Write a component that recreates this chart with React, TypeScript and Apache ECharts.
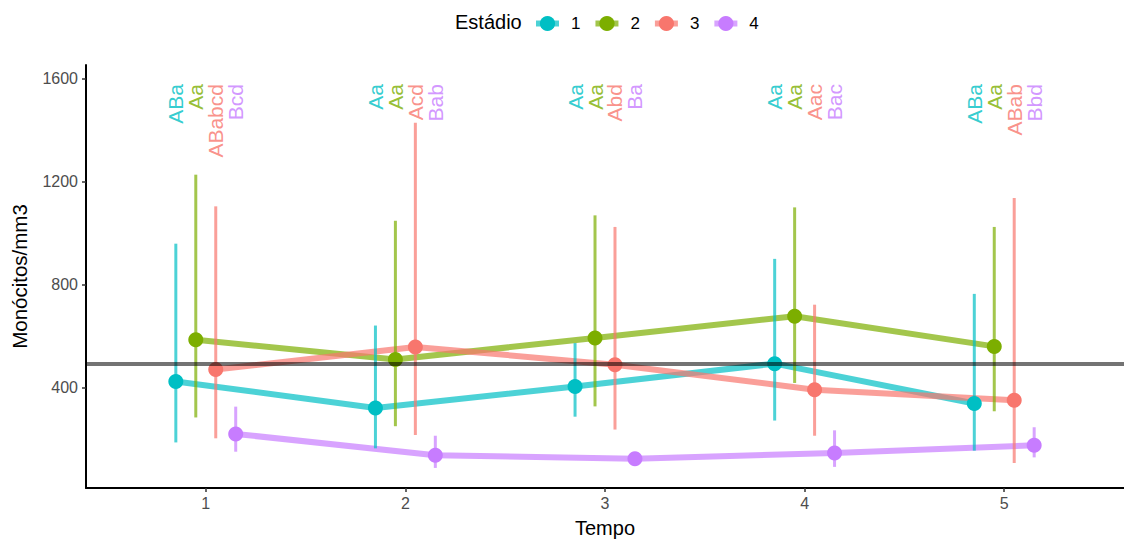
import React, { useEffect, useRef } from 'react';
import * as echarts from 'echarts';

const times = [1, 2, 3, 4, 5];
const groups = ['1', '2', '3', '4'];
const colors = ['#00BFC4', '#7CAE00', '#F8766D', '#C77CFF'];
const dodge = [-0.15, -0.05, 0.05, 0.15];
const means = [
  [423, 320, 403, 492, 337],
  [585, 508, 592, 676, 559],
  [469, 557, 488, 391, 350],
  [219, 136, 123, 145, 175],
];
const lower = [
  [186, 163, 286, 271, 154],
  [283, 249, 326, 417, 307],
  [202, 215, 236, 212, 106],
  [150, 87, 105, 91, 128],
];
const upper = [
  [958, 640, 572, 899, 763],
  [1226, 1047, 1068, 1099, 1023],
  [1103, 1428, 1023, 721, 1135],
  [325, 212, 140, 233, 245],
];
const letters = [
  ['ABa', 'Aa', 'Aa', 'Aa', 'ABa'],
  ['Aa', 'Aa', 'Aa', 'Aa', 'Aa'],
  ['ABabcd', 'Acd', 'Abd', 'Aac', 'ABab'],
  ['Bcd', 'Bab', 'Ba', 'Bac', 'Bbd'],
];
const letterY = 1578;
const referenceLine = 490;
const yTicks = [400, 800, 1200, 1600];

const FONT = '"Liberation Sans", Arial, sans-serif';

export default function App() {
  const ref = useRef<HTMLDivElement>(null);
  useEffect(() => {
    document.body.style.margin = '0';
    const chart = echarts.init(ref.current!, undefined, { renderer: 'svg' });
    const series: any[] = [];
    groups.forEach((g, gi) => {
      const color = colors[gi];
      series.push({
        name: g,
        type: 'line',
        data: times.map((t, i) => [t + dodge[gi], means[gi][i]]),
        symbol: 'circle',
        symbolSize: 15,
        showSymbol: false,
        lineStyle: { color, width: 6, opacity: 0.7 },
        itemStyle: { color },
        z: 2,
      });
      series.push({
        name: g,
        type: 'custom',
        data: times.map((t, i) => [t + dodge[gi], lower[gi][i], upper[gi][i]]),
        encode: { x: 0, y: [1, 2] },
        renderItem: (params: any, api: any) => {
          const x = api.value(0);
          const p1 = api.coord([x, api.value(1)]);
          const p2 = api.coord([x, api.value(2)]);
          return {
            type: 'line',
            shape: { x1: p1[0], y1: p1[1], x2: p2[0], y2: p2[1] },
            style: { stroke: color, lineWidth: 3, opacity: 0.7 },
          };
        },
        z: 3,
      });
      series.push({
        name: g,
        type: 'scatter',
        data: times.map((t, i) => [t + dodge[gi], means[gi][i]]),
        symbol: 'circle',
        symbolSize: 15,
        itemStyle: { color, opacity: 1 },
        z: 4,
      });
      series.push({
        name: 'lab' + g,
        type: 'scatter',
        data: times.map((t, i) => [t + dodge[gi], letterY, letters[gi][i]]),
        symbolSize: 1,
        itemStyle: { color: 'transparent' },
        label: {
          show: true,
          formatter: (p: any) => p.value[2],
          position: 'inside',
          rotate: 90,
          align: 'right',
          verticalAlign: 'middle',
          fontSize: 21,
          fontFamily: FONT,
          color,
        },
        z: 5,
      });
    });
    series.push({
      name: 'ref',
      type: 'line',
      data: [],
      markLine: {
        silent: true,
        symbol: ['none', 'none'],
        label: { show: false },
        lineStyle: { color: 'rgba(0,0,0,0.55)', width: 4, type: 'solid' },
        data: [{ yAxis: referenceLine }],
      },
      z: 6,
    });

    chart.setOption({
      animation: false,
      textStyle: { fontFamily: FONT },
      title: {
        text: 'Estádio',
        left: 450,
        top: 7,
        textStyle: { fontSize: 20, fontWeight: 'normal', color: '#000', fontFamily: FONT },
      },
      legend: {
        data: groups,
        left: 528,
        top: 10,
        itemWidth: 23,
        itemHeight: 19,
        itemGap: 12,
        lineStyle: { width: 6, opacity: 0.7 },
        textStyle: { fontSize: 17, color: '#000', fontFamily: FONT, padding: [0, 0, 0, 7] },
      },
      grid: { left: 86, right: 0, top: 65, bottom: 55, containLabel: false },
      xAxis: {
        type: 'value',
        min: 0.4,
        max: 5.6,
        splitLine: { show: false },
        axisLine: { show: true, lineStyle: { color: '#000', width: 2 } },
        axisTick: { show: true, customValues: times, length: 4, lineStyle: { color: '#333', width: 1.5 } },
        axisLabel: { customValues: times, color: '#4d4d4d', fontSize: 16, margin: 7, fontFamily: FONT, formatter: (v: number) => String(v) },
        name: 'Tempo',
        nameLocation: 'middle',
        nameGap: 30,
        nameTextStyle: { fontSize: 20, color: '#000', fontFamily: FONT },
      },
      yAxis: {
        type: 'value',
        min: 9,
        max: 1652,
        splitLine: { show: false },
        axisLine: { show: true, lineStyle: { color: '#000', width: 2 } },
        axisTick: { show: true, customValues: yTicks, length: 4, lineStyle: { color: '#333', width: 1.5 } },
        axisLabel: { customValues: yTicks, color: '#4d4d4d', fontSize: 16, margin: 8, fontFamily: FONT, formatter: (v: number) => String(v) },
        name: 'Monócitos/mm3',
        nameLocation: 'middle',
        nameGap: 56,
        nameRotate: 90,
        nameTextStyle: { fontSize: 20.5, color: '#000', fontFamily: FONT },
      },
      series,
    });
    return () => chart.dispose();
  }, []);
  return <div ref={ref} style={{ width: 1124, height: 543 }} />;
}
